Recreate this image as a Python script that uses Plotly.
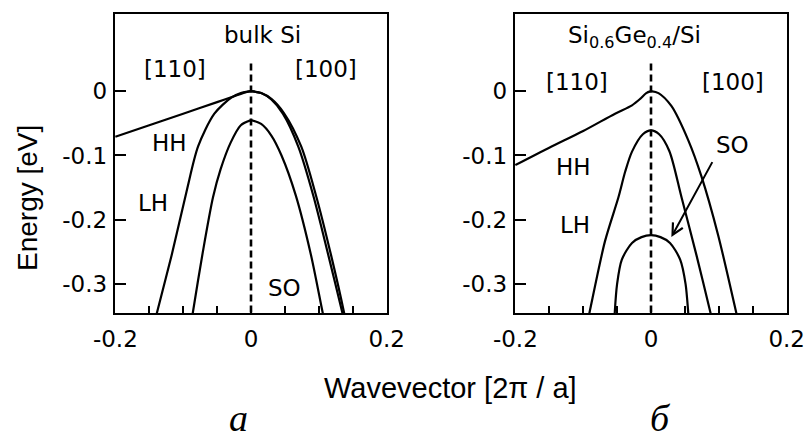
import plotly.graph_objects as go

# ---------------- data (k in 2pi/a, E in eV) ----------------
# bulk Si
si_hh110_k = [-0.2, -0.15, -0.1, -0.05, -0.025, -0.012, 0.0]
si_hh110_e = [-0.071, -0.053, -0.035, -0.017, -0.008, -0.003, 0.0]
si_lh110_k = [0.0, -0.015, -0.029, -0.054, -0.078, -0.095, -0.117, -0.139, -0.142]
si_lh110_e = [0.0, -0.003, -0.010, -0.035, -0.086, -0.156, -0.255, -0.346, -0.36]
si_so110_k = [0.0, -0.015, -0.03, -0.045, -0.056, -0.071, -0.086, -0.088]
si_so110_e = [-0.045, -0.053, -0.080, -0.122, -0.165, -0.250, -0.346, -0.36]
si_so100_k = [0.0, 0.015, 0.03, 0.045, 0.066, 0.0885, 0.106, 0.109]
si_so100_e = [-0.045, -0.051, -0.069, -0.100, -0.162, -0.255, -0.346, -0.36]
si_hh100_k = [0.0, 0.015, 0.03, 0.0485, 0.074, 0.096, 0.118, 0.1375, 0.140]
si_hh100_e = [0.0, -0.003, -0.012, -0.034, -0.086, -0.163, -0.255, -0.346, -0.36]
si_lh100_k = [0.0, 0.015, 0.03, 0.047, 0.070, 0.092, 0.114, 0.135, 0.138]
si_lh100_e = [0.0, -0.003, -0.013, -0.035, -0.087, -0.163, -0.255, -0.346, -0.36]

# strained Si0.6Ge0.4/Si
sg_hh110_k = [-0.2, -0.15, -0.1, -0.053, -0.028, -0.016, -0.007, 0.0]
sg_hh110_e = [-0.115, -0.088, -0.062, -0.035, -0.022, -0.012, -0.003, 0.0]
sg_hh100_k = [0.0, 0.011, 0.03, 0.055, 0.0745, 0.099, 0.126, 0.129]
sg_hh100_e = [0.0, -0.003, -0.023, -0.0765, -0.133, -0.224, -0.346, -0.36]
sg_lh_k = [-0.094, -0.091, -0.068, -0.048, -0.038, -0.028, -0.012, 0.0,
           0.012, 0.027, 0.045, 0.067, 0.088, 0.091]
sg_lh_e = [-0.36, -0.346, -0.234, -0.165, -0.125, -0.094, -0.067, -0.061,
           -0.067, -0.093, -0.165, -0.255, -0.346, -0.36]
sg_so_k = [-0.054, -0.0535, -0.05, -0.043, -0.028, -0.014, 0.0,
           0.014, 0.028, 0.043, 0.051, 0.055, 0.056]
sg_so_e = [-0.36, -0.346, -0.30, -0.262, -0.236, -0.227, -0.224,
           -0.227, -0.236, -0.262, -0.30, -0.346, -0.36]

gamma_k = [0.0, 0.0]
gamma_e = [0.043, -0.36]

x_tick_vals = [-0.2, -0.15, -0.1, -0.05, 0.0, 0.05, 0.1, 0.15, 0.2]
x_tick_text = ["-0.2", "", "", "", "0", "", "", "", "0.2"]
y_tick_vals = [0.0, -0.1, -0.2, -0.3]
y_tick_text = ["0", "-0.1", "-0.2", "-0.3"]

X_RANGE = [-0.2005, 0.2005]
Y_RANGE = [-0.345, 0.12]

W, H = 807, 441
FONT = "DejaVu Sans, Liberation Sans, Arial, sans-serif"
FONT2 = "Liberation Sans, Arial, Helvetica, sans-serif"
SERIF = "Liberation Serif, Times New Roman, serif"

fig = go.Figure()

def band(k, e, xa, ya, w=2.2):
    fig.add_trace(go.Scatter(x=k, y=e, mode="lines", xaxis=xa, yaxis=ya,
                             line=dict(color="black", width=w, shape="spline", smoothing=0.8),
                             showlegend=False, hoverinfo="skip"))

def gamma(xa, ya):
    fig.add_trace(go.Scatter(x=gamma_k, y=gamma_e, mode="lines", xaxis=xa, yaxis=ya,
                             line=dict(color="black", width=2.6, dash="7px,4px"),
                             showlegend=False, hoverinfo="skip"))

gamma("x", "y")
for k, e in [(si_hh110_k, si_hh110_e), (si_lh110_k, si_lh110_e), (si_so110_k, si_so110_e),
             (si_so100_k, si_so100_e), (si_hh100_k, si_hh100_e), (si_lh100_k, si_lh100_e)]:
    band(k, e, "x", "y")

gamma("x2", "y2")
for k, e in [(sg_hh110_k, sg_hh110_e), (sg_hh100_k, sg_hh100_e), (sg_lh_k, sg_lh_e), (sg_so_k, sg_so_e)]:
    band(k, e, "x2", "y2")

def xax(dom):
    return dict(domain=dom, range=X_RANGE, showline=True, mirror=True, linecolor="black",
                linewidth=2.4, ticks="inside", ticklen=7, tickwidth=2, tickcolor="black",
                tickvals=x_tick_vals, ticktext=x_tick_text, showgrid=False, zeroline=False,
                automargin=False, ticklabelstandoff=4,
                tickfont=dict(family=FONT, size=23, color="black"), fixedrange=True)

def yax(anchor):
    return dict(domain=[1 - 313 / H, 1 - 14 / H], range=Y_RANGE, anchor=anchor, showline=True,
                mirror=True, linecolor="black", linewidth=2.4, ticks="inside", ticklen=11,
                tickwidth=2.4, tickcolor="black", tickvals=y_tick_vals, ticktext=y_tick_text,
                showgrid=False, zeroline=False, ticklabelstandoff=1, automargin=False,
                tickfont=dict(family=FONT, size=23, color="black"), fixedrange=True)

fig.update_layout(
    width=W, height=H, margin=dict(l=0, r=0, t=0, b=0, pad=0, autoexpand=False),
    autosize=False,
    paper_bgcolor="white", plot_bgcolor="white",
    xaxis=dict(xax([115 / W, 387 / W]), anchor="y"),
    yaxis=yax("x"),
    xaxis2=dict(xax([515 / W, 787 / W]), anchor="y2"),
    yaxis2=yax("x2"),
)

anns = []
def txt(x, y, s, xr, yr, size=23):
    anns.append(dict(x=x, y=y, xref=xr, yref=yr, text=s, showarrow=False,
                     xanchor="center", yanchor="middle",
                     font=dict(family=FONT, size=size, color="black")))

txt(0.017, 0.087, "bulk Si", "x", "y")
txt(-0.112, 0.035, "[110]", "x", "y")
txt(0.111, 0.035, "[100]", "x", "y")
txt(-0.12, -0.081, "HH", "x", "y")
txt(-0.145, -0.174, "LH", "x", "y")
txt(0.05, -0.306, "SO", "x", "y")

txt(-0.024, 0.084, "Si<sub>0.6</sub>Ge<sub>0.4</sub>/Si", "x2", "y2")
txt(-0.109, 0.014, "[110]", "x2", "y2")
txt(0.121, 0.014, "[100]", "x2", "y2")
txt(-0.115, -0.118, "HH", "x2", "y2")
txt(-0.112, -0.208, "LH", "x2", "y2")
txt(0.12, -0.084, "SO", "x2", "y2")

anns.append(dict(x=0.030, y=-0.227, xref="x2", yref="y2", ax=0.0916, ay=-0.108,
                 axref="x2", ayref="y2", text="", showarrow=True, arrowhead=5,
                 arrowsize=1.1, arrowwidth=2, arrowcolor="black", standoff=0, startstandoff=0))

anns.append(dict(x=451 / W, y=1 - 388 / H, xref="paper", yref="paper",
                 xanchor="center", yanchor="middle",
                 text="Wavevector [2\u03c0 / a]", showarrow=False,
                 font=dict(family=FONT2, size=29, color="black")))
anns.append(dict(x=27 / W, y=1 - 198 / H, xref="paper", yref="paper",
                 xanchor="center", yanchor="middle",
                 text="Energy [eV]", showarrow=False, textangle=-90,
                 font=dict(family=FONT2, size=28, color="black")))
anns.append(dict(x=238 / W, y=0.0, xref="paper", yref="paper",
                 xanchor="center", yanchor="bottom",
                 text="<i>\u0430</i>", showarrow=False,
                 font=dict(family=SERIF, size=38, color="black")))
anns.append(dict(x=660 / W, y=0.0, xref="paper", yref="paper",
                 xanchor="center", yanchor="bottom",
                 text="<i>\u0431</i>", showarrow=False,
                 font=dict(family=SERIF, size=38, color="black")))

fig.update_layout(annotations=anns)
fig.write_html("out.html")
